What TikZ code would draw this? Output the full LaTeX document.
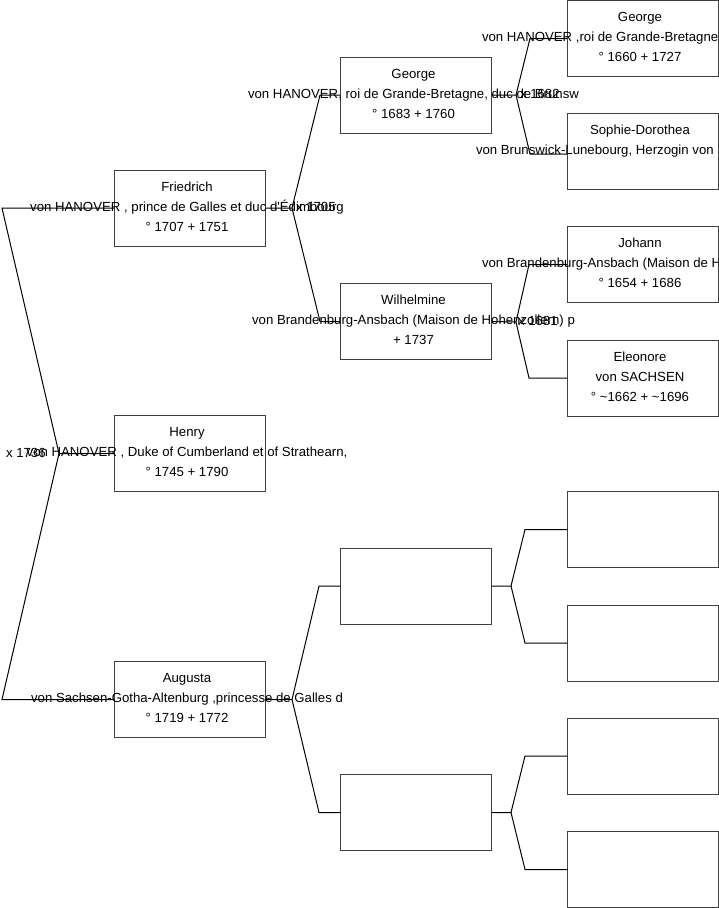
\documentclass[tikz,border=0pt]{standalone}
\usepackage{fontspec}
\newfontfamily\pfont{Liberation Sans}
\begin{document}
\tikzset{
  pbox/.style={draw=black!75, line width=1pt, minimum width=151pt, minimum height=76pt, inner sep=0pt, outer sep=0pt},
  ptxt/.style={anchor=base, inner sep=0pt, outer sep=0pt, font=\pfont\fontsize{13.2}{16}\selectfont},
  ptxtw/.style={ptxt, anchor=base west},
  conn/.style={draw=black, line width=1pt},
}
\newcommand\person[6]{%
  \node[pbox] (#1) at (#2,#3) {};
  \node[ptxt, xshift=-2.5pt, yshift=17pt] (#1-a) at (#2,#3) {#4};
  \node[ptxt, xshift=-2.5pt, yshift=-3pt] (#1-b) at (#2,#3) {#5};
  \node[ptxt, xshift=-2.5pt, yshift=-23pt] (#1-c) at (#2,#3) {#6};
}
\newcommand\emptyperson[3]{\node[pbox] (#1) at (#2,#3) {};}
\begin{tikzpicture}[x=1pt,y=-1pt]
\useasboundingbox (0,0) rectangle (719,908);
% generation 1
\person{fr}{189.5}{208}{Friedrich}{von HANOVER , prince de Galles et duc d'Édimbourg}{° 1707 + 1751}
\person{he}{189.5}{453.5}{Henry}{von HANOVER , Duke of Cumberland et of Strathearn,}{° 1745 + 1790}
\person{au}{189.5}{699.5}{Augusta}{von Sachsen-Gotha-Altenburg ,princesse de Galles d}{° 1719 + 1772}
% generation 2
\person{ge}{416}{95}{George}{von HANOVER, roi de Grande-Bretagne, duc de Brunsw}{° 1683 + 1760}
\person{wi}{416}{321.5}{Wilhelmine}{von Brandenburg-Ansbach (Maison de Hohenzollern) p}{+ 1737}
\emptyperson{ea}{416}{586}
\emptyperson{eb}{416}{812.5}
% generation 3
\node[pbox] (gf) at (642.5,38.5) {};
\node[ptxt] (gf-a) at (640,21.5) {George};
\node[ptxtw] (gf-b) at (482,41.5) {von HANOVER ,roi de Grande-Bretagne};
\node[ptxt] (gf-c) at (640,61.5) {° 1660 + 1727};
\node[pbox] (so) at (642.5,151.5) {};
\node[ptxt] (so-a) at (640,134.5) {Sophie-Dorothea};
\node[ptxtw] (so-b) at (476,154.5) {von Brunswick-Lunebourg, Herzogin von};
\node[pbox] (jo) at (642.5,264.5) {};
\node[ptxt] (jo-a) at (640,247.5) {Johann};
\node[ptxtw] (jo-b) at (482,267.5) {von Brandenburg-Ansbach (Maison de H};
\node[ptxt] (jo-c) at (640,287.5) {° 1654 + 1686};
\person{el}{642.5}{378}{Eleonore}{von SACHSEN}{° \textasciitilde1662 + \textasciitilde1696}
\emptyperson{ec}{642.5}{529.5}
\emptyperson{ed}{642.5}{643}
\emptyperson{ee}{642.5}{756}
\emptyperson{ef}{642.5}{869.5}
% junction points
\coordinate (jr) at (59,453.5);
\coordinate (jfr) at (292,208);
\coordinate (jau) at (292,699.5);
\coordinate (jge) at (516,95);
\coordinate (jwi) at (516,322);
\coordinate (jea) at (511,586);
\coordinate (jeb) at (511,812.5);
% connectors
\draw[conn] (he.west) -- (jr) -- (2,208) -- (fr.west);
\draw[conn] (jr) -- (2,699.5) -- (au.west);
\draw[conn] (fr.east) -- (jfr) -- (320,95) -- (ge.west);
\draw[conn] (jfr) -- (320,321.5) -- (wi.west);
\draw[conn] (au.east) -- (jau) -- (319,586) -- (ea.west);
\draw[conn] (jau) -- (319,812.5) -- (eb.west);
\draw[conn] (ge.east) -- (jge) -- (530,38.5) -- (gf.west);
\draw[conn] (jge) -- (530,154) -- ([yshift=-2.5pt]so.west);
\draw[conn] (wi.east) -- (jwi) -- (529,264.5) -- (jo.west);
\draw[conn] (jwi) -- (529,378) -- (el.west);
\draw[conn] (ea.east) -- (jea) -- (525,529.5) -- (ec.west);
\draw[conn] (jea) -- (525,643) -- (ed.west);
\draw[conn] (eb.east) -- (jeb) -- (525,756) -- (ee.west);
\draw[conn] (jeb) -- (525,869.5) -- (ef.west);
% marriage labels
\node[ptxtw] (m1736) at (6,457) {x 1736};
\node[ptxtw] (m1705) at (296,211.5) {x 1705};
\node[ptxtw] (m1682) at (520,98.5) {x 1682};
\node[ptxtw] (m1681) at (518,325.5) {x 1681};
\end{tikzpicture}
\end{document}
